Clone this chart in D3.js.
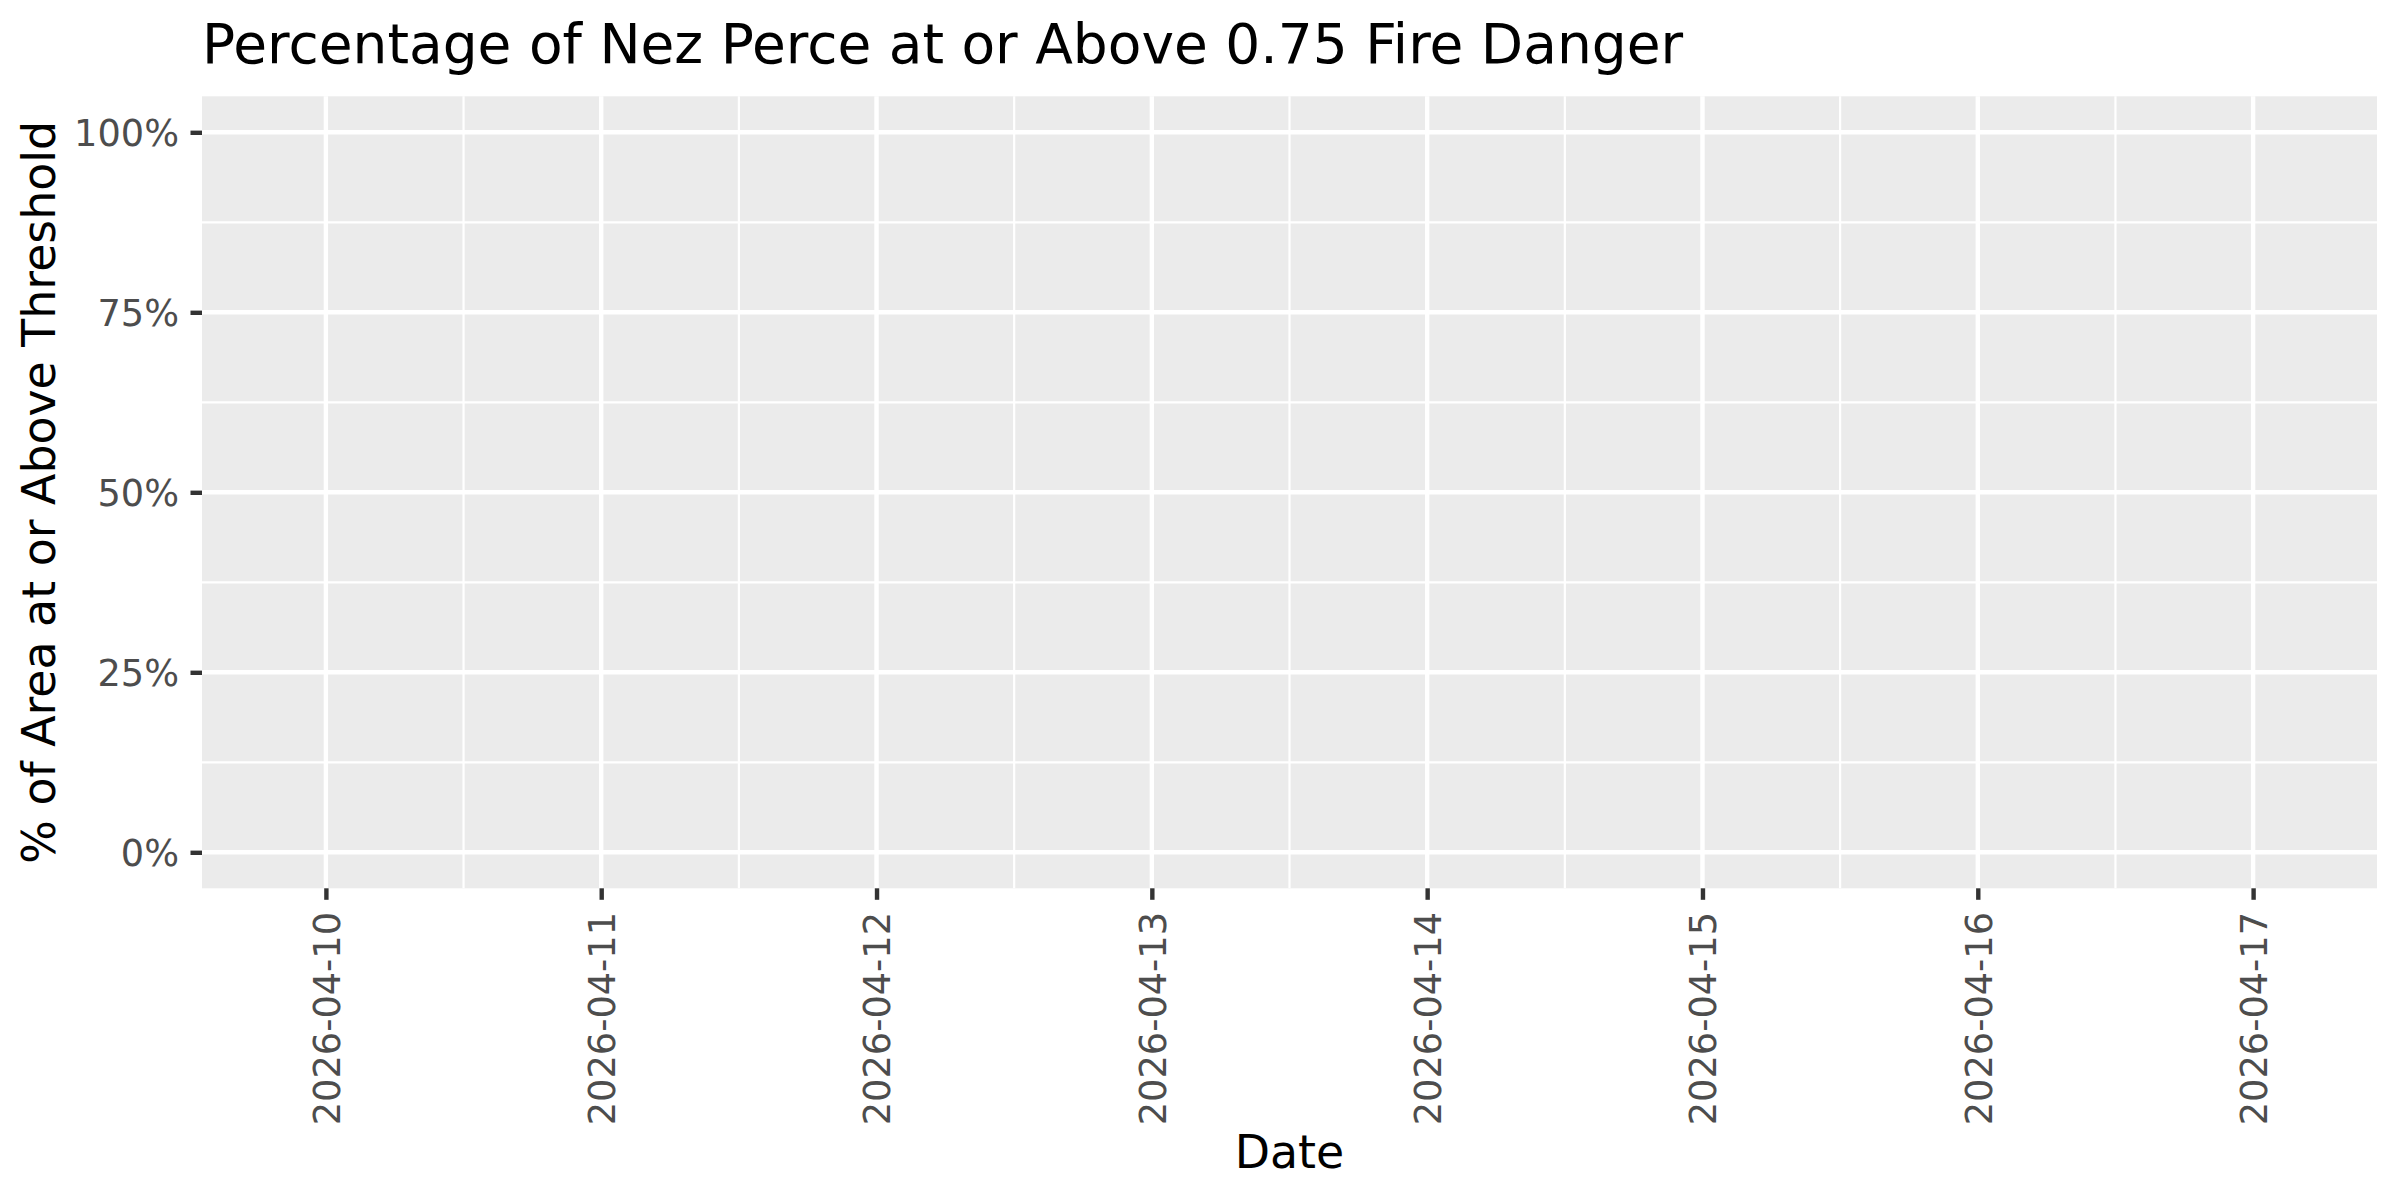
<!DOCTYPE html>
<html>
<head>
<meta charset="utf-8">
<script src="https://cdn.jsdelivr.net/npm/d3@7"></script>
<style>
  body { margin: 0; background: #fff; }
  text { font-family: "DejaVu Sans", sans-serif; }
</style>
</head>
<body>
<div id="chart"></div>
<script>
// data: every day is at 0% above threshold
const dates = ["2026-04-10", "2026-04-11", "2026-04-12", "2026-04-13",
               "2026-04-14", "2026-04-15", "2026-04-16", "2026-04-17"];
const pctAbove = [0, 0, 0, 0, 0, 0, 0, 0];
const yTicks = [0, 0.25, 0.5, 0.75, 1];
const yTickLabels = ["0%", "25%", "50%", "75%", "100%"];

const width = 2400;
const height = 1200;
const margin = { top: 96.3, right: 23, bottom: 311.7, left: 202 };
const day = 864e5;

const parse = d3.utcParse("%Y-%m-%d");
const data = dates.map((d, i) => ({ date: parse(d), value: pctAbove[i] }));

const svg = d3.select("#chart")
  .append("svg")
  .attr("width", width)
  .attr("height", height);

const x = d3.scaleUtc()
  .domain([+data[0].date - 0.45 * day, +data[data.length - 1].date + 0.45 * day])
  .range([margin.left, width - margin.right]);

const y = d3.scaleLinear()
  .domain([-0.05, 1.05])
  .range([height - margin.bottom, margin.top]);

// panel
svg.append("rect")
  .attr("x", margin.left)
  .attr("y", margin.top)
  .attr("width", width - margin.left - margin.right)
  .attr("height", height - margin.top - margin.bottom)
  .attr("fill", "#EBEBEB");

const grid = svg.append("g").attr("stroke", "#fff");

// minor grid
const xMinor = data.slice(0, -1).map(d => new Date(+d.date + day / 2));
const yMinor = yTicks.slice(0, -1).map(v => v + 0.125);

grid.selectAll(".xminor")
  .data(xMinor)
  .join("line")
  .attr("x1", d => x(d)).attr("x2", d => x(d))
  .attr("y1", margin.top).attr("y2", height - margin.bottom)
  .attr("stroke-width", 2.2);

grid.selectAll(".yminor")
  .data(yMinor)
  .join("line")
  .attr("x1", margin.left).attr("x2", width - margin.right)
  .attr("y1", d => y(d)).attr("y2", d => y(d))
  .attr("stroke-width", 2.2);

// major grid
grid.selectAll(".xmajor")
  .data(data)
  .join("line")
  .attr("x1", d => x(d.date)).attr("x2", d => x(d.date))
  .attr("y1", margin.top).attr("y2", height - margin.bottom)
  .attr("stroke-width", 4.4);

grid.selectAll(".ymajor")
  .data(yTicks)
  .join("line")
  .attr("x1", margin.left).attr("x2", width - margin.right)
  .attr("y1", d => y(d)).attr("y2", d => y(d))
  .attr("stroke-width", 4.4);

// bars (all zero height)
svg.append("g")
  .attr("fill", "#595959")
  .selectAll("rect")
  .data(data)
  .join("rect")
  .attr("x", d => x(+d.date - 0.45 * day))
  .attr("width", d => x(+d.date + 0.45 * day) - x(+d.date - 0.45 * day))
  .attr("y", d => y(d.value))
  .attr("height", d => y(0) - y(d.value));

// axes
const xAxis = svg.append("g")
  .attr("transform", `translate(0,${height - margin.bottom})`)
  .call(d3.axisBottom(x)
    .tickValues(data.map(d => d.date))
    .tickFormat(d3.utcFormat("%Y-%m-%d"))
    .tickSize(11.5)
    .tickPadding(0));
xAxis.select(".domain").remove();
xAxis.selectAll(".tick line").attr("stroke", "#333333").attr("stroke-width", 4.4);
xAxis.selectAll(".tick text")
  .attr("fill", "#4D4D4D")
  .attr("font-size", 36.7)
  .attr("text-anchor", "end")
  .attr("transform", "translate(0,23.7) rotate(-90)")
  .attr("x", 0)
  .attr("y", 0)
  .attr("dy", "0.36em");

const yAxis = svg.append("g")
  .attr("transform", `translate(${margin.left},0)`)
  .call(d3.axisLeft(y)
    .tickValues(yTicks)
    .tickFormat((d, i) => yTickLabels[i])
    .tickSize(11.5)
    .tickPadding(11.5));
yAxis.select(".domain").remove();
yAxis.selectAll(".tick line").attr("stroke", "#333333").attr("stroke-width", 4.4);
yAxis.selectAll(".tick text")
  .attr("fill", "#4D4D4D")
  .attr("font-size", 36.7)
  .attr("dy", "0.36em");

// titles
svg.append("text")
  .attr("x", margin.left)
  .attr("y", 63)
  .attr("font-size", 55)
  .attr("fill", "#000")
  .text("Percentage of Nez Perce at or Above 0.75 Fire Danger");

svg.append("text")
  .attr("x", (margin.left + width - margin.right) / 2)
  .attr("y", 1168)
  .attr("text-anchor", "middle")
  .attr("font-size", 45.8)
  .attr("fill", "#000")
  .text("Date");

svg.append("text")
  .attr("transform", `translate(55,${(margin.top + height - margin.bottom) / 2}) rotate(-90)`)
  .attr("text-anchor", "middle")
  .attr("font-size", 45.8)
  .attr("fill", "#000")
  .text("% of Area at or Above Threshold");
</script>
</body>
</html>
